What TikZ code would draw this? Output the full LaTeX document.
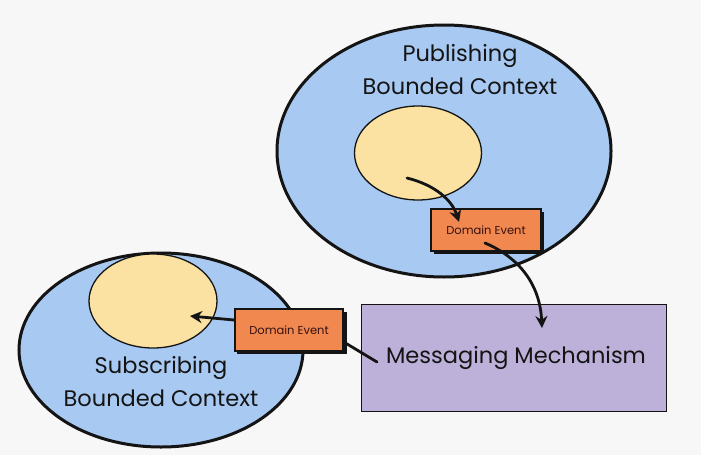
\documentclass[tikz,border=0pt]{standalone}
\usepackage{fontspec}
\setmainfont{Poppins}
\usetikzlibrary{arrows.meta,shapes.geometric}
\definecolor{bg}{HTML}{F7F7F7}
\definecolor{ctxblue}{HTML}{A8C9F2}
\definecolor{aggyel}{HTML}{FBE2A2}
\definecolor{evorange}{HTML}{F0884F}
\definecolor{msgpurple}{HTML}{BDB1DA}
\definecolor{ink}{HTML}{141414}
\tikzset{
  ctx/.style={ellipse, draw=ink, line width=3pt, fill=ctxblue, inner sep=0pt},
  agg/.style={ellipse, draw=ink, line width=1.3pt, fill=aggyel, inner sep=0pt},
  evbox/.style={rectangle, draw=ink, line width=1.5pt, fill=evorange, minimum width=110pt, minimum height=42pt, inner sep=0pt, font=\fontsize{11.5}{13}\selectfont, text=ink!85!red},
  evshadow/.style={rectangle, fill=ink, minimum width=110pt, minimum height=42pt, inner sep=0pt},
  msgbox/.style={rectangle, draw=ink, line width=1.8pt, fill=msgpurple, minimum width=305pt, minimum height=107pt, inner sep=0pt},
  bigtxt/.style={font=\fontsize{22.5}{33}\selectfont, text=ink, align=center},
  flow/.style={draw=ink, line width=2.8pt, line cap=round, -{Stealth[length=12pt,width=12pt]}},
  link/.style={draw=ink, line width=2.8pt, line cap=round}
}
\begin{document}
\begin{tikzpicture}[x=1pt,y=-1pt]
\fill[bg] (0,0) rectangle (701,455);
\useasboundingbox (0,0) rectangle (701,455);
% publishing context
\node[ctx, minimum width=334pt, minimum height=252pt] (pub) at (444,151) {};
\node[agg, minimum width=127pt, minimum height=94pt] (pubagg) at (418,153) {};
\node[bigtxt] (pubtxt) at (460,70) {Publishing\\Bounded Context};
\node[evshadow] at (489,233) {};
\node[evbox] (pubev) at (486,230) {Domain Event};
% subscribing context
\node[ctx, minimum width=284pt, minimum height=194pt] (sub) at (161,350) {};
\node[agg, minimum width=128pt, minimum height=94pt] (subagg) at (153,301) {};
\node[bigtxt] (subtxt) at (161,382) {Subscribing\\Bounded Context};
\node[evshadow] at (292,333) {};
\node[evbox, minimum width=108pt] (subev) at (289,330) {Domain Event};
% messaging
\node[msgbox] (msg) at (514,358) {};
\node[bigtxt] (msgtxt) at (516,358) {Messaging Mechanism};
% connectors
\coordinate (a1s) at (407,178);
\coordinate (a1e) at (459,222);
\draw[flow] (a1s) .. controls (435,185) and (452,200) .. (a1e);
\coordinate (a2s) at (485,243);
\coordinate (a2e) at (542,328);
\draw[flow] (a2s) .. controls (520,258) and (540,285) .. (a2e);
\coordinate (a3s) at (377,362);
\draw[link] (a3s) -- (subev.east |- 0,342);
\coordinate (a4e) at (190,316);
\draw[flow] (subev.west |- 0,320) -- (a4e);
\end{tikzpicture}
\end{document}
